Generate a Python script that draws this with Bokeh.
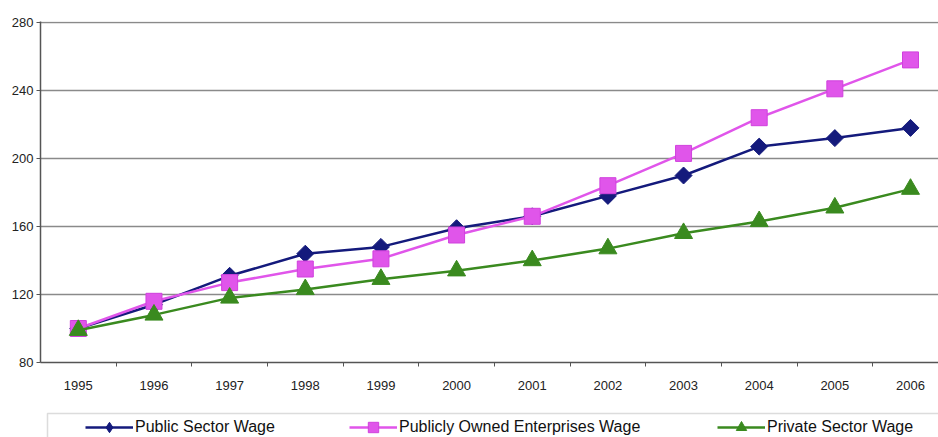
from bokeh.plotting import figure
from bokeh.layouts import column
from bokeh.models import (Range1d, FixedTicker, Legend, LegendItem, BoxAnnotation)
from bokeh.embed import file_html
from bokeh.resources import INLINE
import numpy as np

# Wage indices, 1995 = 100
years = ["1995", "1996", "1997", "1998", "1999", "2000",
         "2001", "2002", "2003", "2004", "2005", "2006"]
public_sector = [100, 114, 131, 144, 148, 159, 166, 178, 190, 207, 212, 218]
publicly_owned = [100, 116, 127, 135, 141, 155, 166, 184, 203, 224, 241, 258]
private_sector = [99, 108, 118, 123, 129, 134, 140, 147, 156, 163, 171, 182]

y_ticks = [80, 120, 160, 200, 240, 280]

idx = list(range(len(years)))

FONT = "Liberation Sans"
NAVY = "#141a7c"
PINK = "#e055ea"
GREEN = "#3a8a1f"

# label, values, colour, chart marker, legend marker
series = [
    ("Public Sector Wage", public_sector, NAVY,
     dict(marker="square", angle=np.pi / 4, size=12, line_color=NAVY),
     dict(marker="diamond", line_color=NAVY)),
    ("Publicly Owned Enterprises Wage", publicly_owned, PINK,
     dict(marker="square", size=16, line_color="#d040dd"),
     dict(marker="square", line_color="#d040dd")),
    ("Private Sector Wage", private_sector, GREEN,
     dict(marker="triangle", size=18, line_color=GREEN),
     dict(marker="triangle", line_color=GREEN)),
]

p = figure(width=938, height=400, output_backend="svg", toolbar_location=None,
           x_range=Range1d(-0.5, 11.37), y_range=Range1d(80, 280.59),
           min_border_left=40, min_border_right=0, min_border_top=21,
           min_border_bottom=38)
p.outline_line_color = None
p.background_fill_color = "white"
p.border_fill_color = "white"

# horizontal gridlines only
p.xgrid.grid_line_color = None
p.ygrid.ticker = FixedTicker(ticks=y_ticks)
p.ygrid.grid_line_color = "#8a8a8a"
p.ygrid.grid_line_width = 1.5

# y axis
p.yaxis.ticker = FixedTicker(ticks=y_ticks)
p.yaxis.axis_line_color = "#555555"
p.yaxis.axis_line_width = 1.5
p.yaxis.major_tick_line_color = "#555555"
p.yaxis.major_tick_out = 4
p.yaxis.major_tick_in = 0
p.yaxis.minor_tick_line_color = None
p.yaxis.major_label_standoff = 3
p.yaxis.major_label_text_font = FONT
p.yaxis.major_label_text_font_size = "13px"
p.yaxis.major_label_text_color = "#222222"

# x axis: labels at category centres, ticks between categories
p.xaxis.ticker = FixedTicker(ticks=idx, minor_ticks=[i + 0.5 for i in idx])
p.xaxis.major_label_overrides = {i: y for i, y in zip(idx, years)}
p.xaxis.axis_line_color = "#555555"
p.xaxis.axis_line_width = 1.5
p.xaxis.major_tick_line_color = None
p.xaxis.major_tick_out = 0
p.xaxis.major_tick_in = 0
p.xaxis.minor_tick_line_color = "#555555"
p.xaxis.minor_tick_out = 4
p.xaxis.minor_tick_in = 0
p.xaxis.major_label_standoff = 14
p.xaxis.major_label_text_font = FONT
p.xaxis.major_label_text_font_size = "13px"
p.xaxis.major_label_text_color = "#222222"

for label, values, color, mk, _ in series:
    p.line(idx, values, line_color=color, line_width=2.5)
    p.scatter(idx, values, fill_color=color, **mk)

# legend strip underneath the chart; its frame lines up with the chart frame
# (left edge at x = 40), and its own renderers stay outside its y range
lg_fig = figure(width=938, height=37, output_backend="svg", toolbar_location=None,
                x_range=Range1d(-0.5, 11.37), y_range=Range1d(0, 1),
                x_axis_location=None, y_axis_location=None,
                min_border=0, min_border_left=0, min_border_right=0,
                min_border_top=0, min_border_bottom=0)
lg_fig.grid.visible = False
lg_fig.outline_line_color = None
lg_fig.border_fill_color = "white"
lg_fig.background_fill_color = "white"

box = BoxAnnotation(left=7, right=960, top=24, bottom=-10,
                    left_units="screen", right_units="screen",
                    top_units="screen", bottom_units="screen",
                    fill_color=None, line_color="#8a8a8a", line_width=1.5)
lg_fig.add_layout(box)

legend_x = [45, 309, 677]
for (label, values, color, _, lmk), x in zip(series, legend_x):
    lr = lg_fig.line(idx, values, line_color=color, line_width=2.5)
    sr = lg_fig.scatter(idx, values, fill_color=color, **lmk)
    lg = Legend(items=[LegendItem(label=label, renderers=[lr, sr])],
                location=(x, -3), orientation="horizontal",
                border_line_color=None, background_fill_alpha=0,
                padding=0, margin=0, spacing=0,
                glyph_width=48, glyph_height=26, label_height=20,
                label_standoff=2, label_text_font=FONT,
                label_text_font_size="16px", label_text_color="#111111")
    lg_fig.add_layout(lg, "center")

layout = column(p, lg_fig, spacing=0)

open("out.html", "w").write(file_html(layout, INLINE))
